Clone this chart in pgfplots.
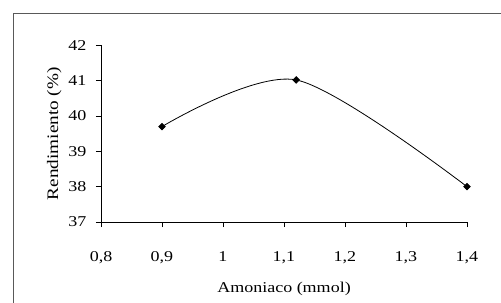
\documentclass[border=0pt]{standalone}
\usepackage{fontspec}
\setmainfont{Liberation Serif}[FakeStretch=1.2]
\usepackage{pgfplots}
\pgfplotsset{compat=1.18}
\begin{document}
\begin{tikzpicture}
\useasboundingbox (0,0) rectangle (501bp,303bp);
\draw[black!65, line width=1bp] (13.5bp,-2bp) -- (13.5bp,289.5bp) -- (503bp,289.5bp);
\begin{axis}[
  at={(101bp,81bp)}, anchor=south west,
  scale only axis, width=366bp, height=176.7bp,
  xmin=0.8, xmax=1.4, ymin=37, ymax=42,
  xtick={0.8,0.9,1,1.1,1.2,1.3,1.4},
  ytick={37,38,39,40,41,42},
  axis x line*=bottom, axis y line*=left,
  axis line style={-, line width=0.8bp},
  tick align=outside, major tick length=5bp,
  tick style={line width=0.8bp, black},
  /pgf/number format/use comma,
  /pgf/number format/assume math mode=true,
  ticklabel style={font=\fontsize{15bp}{17bp}\selectfont},
  xticklabel style={yshift=-21bp},
  yticklabel style={xshift=-6bp},
  xlabel={Amoniaco (mmol)},
  ylabel={Rendimiento (\%)},
  xlabel style={font=\fontsize{15bp}{17bp}\selectfont, yshift=-11bp},
  ylabel style={font=\fontsize{16bp}{18bp}\selectfont},
  clip=false,
]
\addplot[black, line width=0.8bp, smooth, tension=0.5, mark=square*, mark size=2.3bp,
  mark options={rotate=45, solid}] coordinates {(0.9,39.7) (1.12,41.02) (1.4,38.0)};
\end{axis}
\end{tikzpicture}
\end{document}
